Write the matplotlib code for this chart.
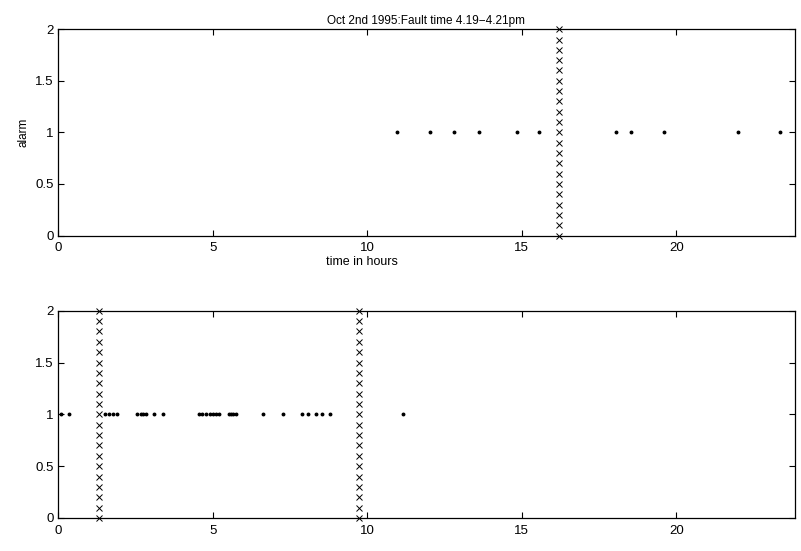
import numpy as np
import matplotlib
matplotlib.use("Agg")
import matplotlib.pyplot as plt

plt.rcParams['font.family'] = ['Liberation Sans', 'DejaVu Sans']

# Alarm times (hours) for each panel
top_alarm_times = [10.96, 12.04, 12.79, 13.63, 14.84, 15.55, 18.06, 18.54, 19.59, 22.0, 23.34]
bottom_alarm_times = [0.10, 0.34, 1.53, 1.66, 1.79, 1.92, 2.57, 2.67, 2.76, 2.86, 3.12, 3.39,
                      4.55, 4.67, 4.79, 4.90, 5.00, 5.11, 5.22, 5.54, 5.61, 5.67, 5.76,
                      6.62, 7.27, 7.90, 8.10, 8.33, 8.55, 8.78, 11.17]
alarm_level = 1
# Fault times (hours) drawn as vertical columns of crosses
top_fault_times = [16.2]
bottom_fault_times = [1.31, 9.73]
fault_levels = np.round(np.arange(0, 2.0001, 0.1), 2)

title_text = "Oct 2nd 1995:Fault time 4.19\u22124.21pm"
xticks = [0, 5, 10, 15, 20]
yticks = [0, 0.5, 1, 1.5, 2]
ytick_labels = ["0", "0.5", "1", "1.5", "2"]

fig = plt.figure(figsize=(8.01, 5.51), dpi=100)
ax1 = fig.add_axes([0.0724, 0.5725, 0.920, 0.3745])
ax2 = fig.add_axes([0.0724, 0.060, 0.920, 0.376])

def draw(ax, times, faults):
    ax.plot(times, [alarm_level] * len(times), linestyle='none', marker='o',
            markersize=1.8, color='black')
    for f in faults:
        ax.plot([f] * len(fault_levels), fault_levels, linestyle='none', marker='x',
                markersize=4.2, markeredgewidth=0.7, color='black', clip_on=False)
    ax.set_xlim(0, 23.83)
    ax.set_ylim(0, 2)
    ax.set_xticks(xticks)
    ax.set_xticklabels([str(t) for t in xticks])
    ax.set_yticks(yticks)
    ax.set_yticklabels(ytick_labels)
    ax.tick_params(direction='in', length=4, width=0.8, top=True, right=True,
                   labelsize=9.5, colors='black')
    ax.tick_params(axis='x', pad=5)
    ax.tick_params(axis='y', pad=3)
    for s in ax.spines.values():
        s.set_linewidth(0.9)

draw(ax1, top_alarm_times, top_fault_times)
draw(ax2, bottom_alarm_times, bottom_fault_times)

ax1.set_title(title_text, fontsize=8.5, pad=4)
ax1.set_ylabel("alarm", fontsize=8.5, labelpad=4)
ax1.set_xlabel("time in hours", fontsize=9)
ax1.xaxis.set_label_coords(0.4125, -0.1)

fig.savefig("out.png", dpi=100)
